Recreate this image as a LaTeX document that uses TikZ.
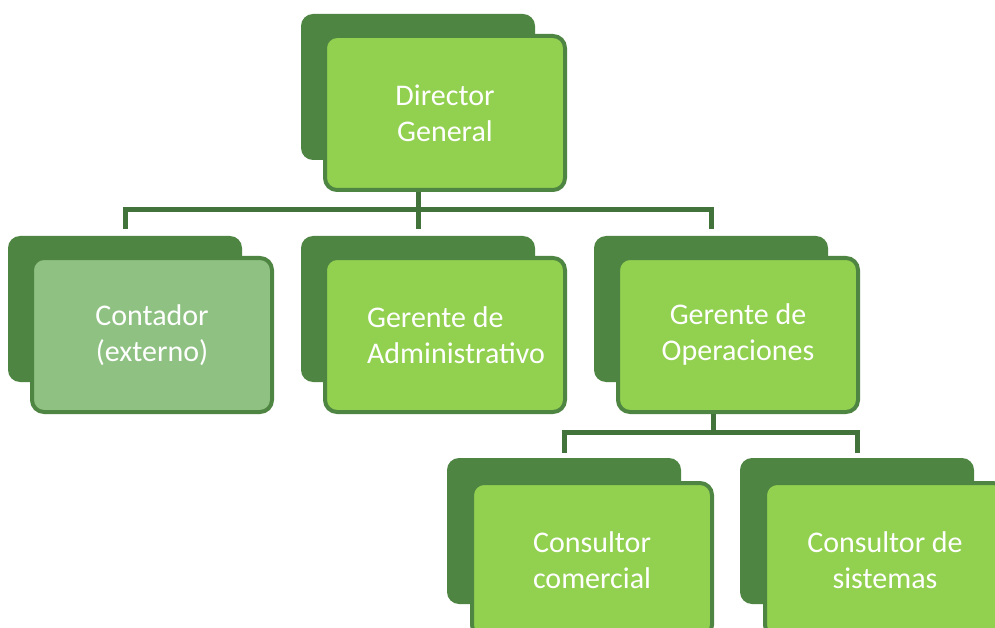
\documentclass[tikz,border=0pt]{standalone}
\usepackage{fontspec}
\setmainfont{Carlito}
\definecolor{backg}{HTML}{4E8542}
\definecolor{frontg}{HTML}{92D050}
\definecolor{mutedg}{HTML}{8FC183}
\definecolor{lineg}{HTML}{41733A}
\tikzset{
  backbox/.style={draw=none, fill=backg, rounded corners=12pt, minimum width=234pt, minimum height=146pt, inner sep=0pt},
  frontbox/.style={draw=backg, line width=4pt, fill=frontg, rounded corners=12pt, minimum width=240pt, minimum height=154pt, inner sep=0pt,
    text=white, align=center, font=\fontsize{30pt}{36pt}\selectfont},
  conn/.style={draw=lineg, line width=5pt}
}
\begin{document}
\begin{tikzpicture}[x=1pt,y=-1pt]
\useasboundingbox (0,0) rectangle (995,628);
\fill[white] (0,0) rectangle (995,628);
\clip (0,0) rectangle (995,628);
% row 1
\node[backbox] (dgb) at (418,87) {};
\node[frontbox] (dg) at (445,113) {Director\\General};
% row 2
\node[backbox] (ctb) at (125,309) {};
\node[frontbox, fill=mutedg] (ct) at (152,335) {Contador\\(externo)};
\node[backbox] (gab) at (418,309) {};
\node[frontbox, align=left] (ga) at (445,335) {\hspace*{22pt}Gerente de\\\hspace*{22pt}Administrativo};
\node[backbox] (gob) at (711,309) {};
\node[frontbox] (go) at (738,335) {Gerente de\\Operaciones};
% row 3
\node[backbox] (ccb) at (564,531) {};
\node[frontbox] (cc) at (592,560) {Consultor\\comercial};
\node[backbox] (csb) at (857,531) {};
\node[frontbox] (cs) at (885,560) {Consultor de\\sistemas};
% connectors
\coordinate (bus1) at (418,210);
\coordinate (bus2) at (713,432);
\draw[conn] (dg.south -| dgb.south) -- (bus1);
\draw[conn] ([yshift=7pt]ctb.north) -- (ctb.north |- bus1) -- (gob.north |- bus1) -- ([yshift=7pt]gob.north);
\draw[conn] (bus1) -- ([yshift=7pt]gab.north);
\draw[conn] (go.south -| bus2) -- (bus2);
\draw[conn] ([yshift=5pt]ccb.north) -- (ccb.north |- bus2) -- (csb.north |- bus2) -- ([yshift=5pt]csb.north);
\end{tikzpicture}
\end{document}
